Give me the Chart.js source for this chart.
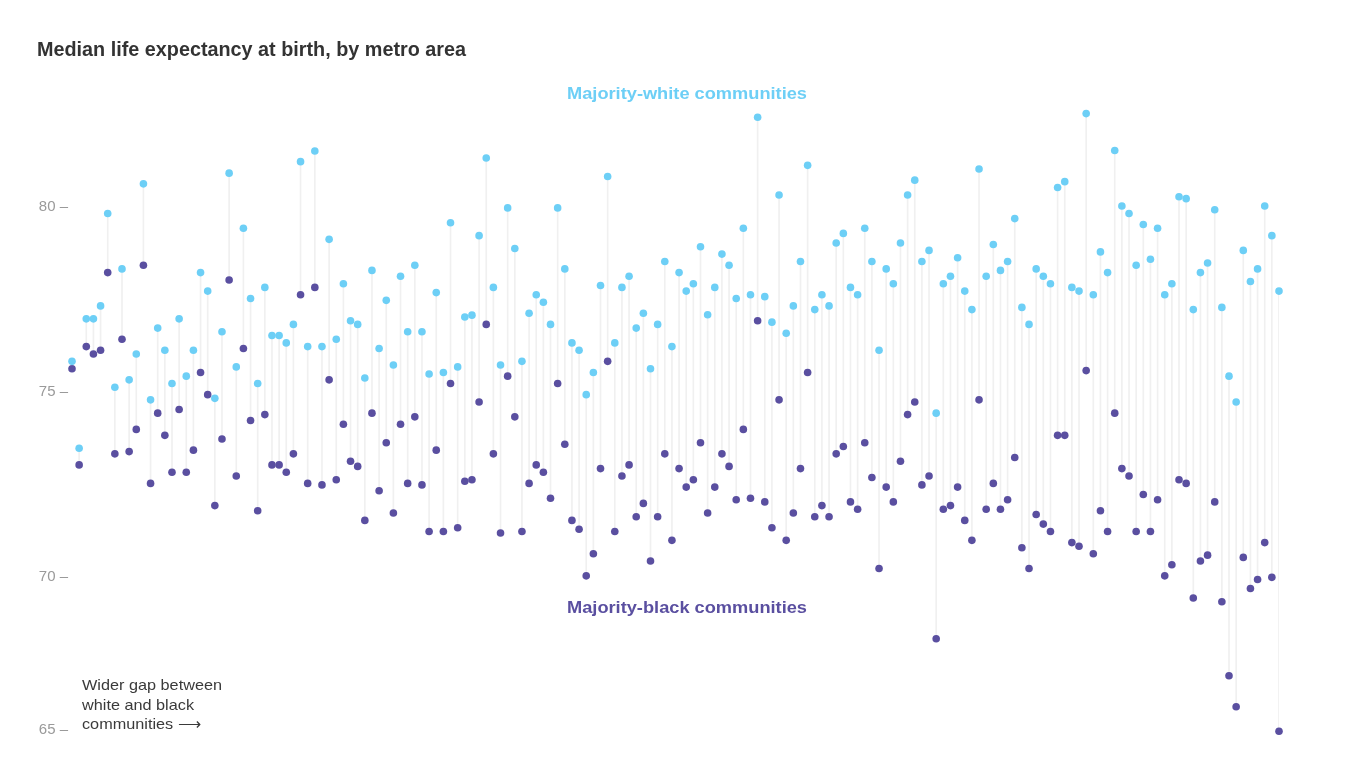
<!DOCTYPE html>
<html>
<head>
<meta charset="utf-8">
<script src="https://cdn.jsdelivr.net/npm/chart.js@4.4.0/dist/chart.umd.min.js"></script>
<style>
  html, body { margin: 0; padding: 0; background: #fff; }
  #wrap { position: relative; width: 1346px; height: 768px; }
</style>
</head>
<body>
<div id="wrap"><canvas id="graph" width="1346" height="768"></canvas></div>
<script>
// median life expectancy, one entry per metro area (sorted by gap, left to right)
const whiteValues = [
  75.83, 73.48, 76.98, 76.98, 77.33, 79.83, 75.13, 78.33, 75.33, 76.03,
  80.63, 74.79, 76.73, 76.13, 75.23, 76.98, 75.43, 76.13, 78.23, 77.73,
  74.83, 76.63, 80.92, 75.68, 79.43, 77.53, 75.23, 77.83, 76.53, 76.53,
  76.33, 76.83, 81.23, 76.23, 81.52, 76.23, 79.13, 76.43, 77.93, 76.93,
  76.83, 75.38, 78.29, 76.18, 77.48, 75.73, 78.13, 76.63, 78.43, 76.63,
  75.49, 77.69, 75.53, 79.58, 75.68, 77.03, 77.08, 79.23, 81.33, 77.83,
  75.73, 79.98, 78.88, 75.83, 77.13, 77.63, 77.43, 76.83, 79.98, 78.33,
  76.33, 76.13, 74.93, 75.53, 77.88, 80.83, 76.33, 77.83, 78.13, 76.73,
  77.13, 75.63, 76.83, 78.53, 76.23, 78.23, 77.73, 77.93, 78.93, 77.09,
  77.83, 78.73, 78.43, 77.53, 79.43, 77.63, 82.43, 77.58, 76.89, 80.33,
  76.59, 77.33, 78.53, 81.13, 77.23, 77.63, 77.33, 79.03, 79.29, 77.83,
  77.63, 79.43, 78.53, 76.13, 78.33, 77.93, 79.03, 80.33, 80.73, 78.53,
  78.83, 74.43, 77.93, 78.13, 78.63, 77.73, 77.23, 81.03, 78.13, 78.99,
  78.29, 78.53, 79.69, 77.29, 76.83, 78.33, 78.13, 77.93, 80.53, 80.69,
  77.83, 77.73, 82.53, 77.63, 78.79, 78.23, 81.53, 80.03, 79.83, 78.43,
  79.53, 78.59, 79.43, 77.63, 77.93, 80.28, 80.23, 77.23, 78.23, 78.49,
  79.93, 77.29, 75.43, 74.73, 78.83, 77.99, 78.33, 80.03, 79.23, 77.73
];

const blackValues = [
  75.63, 73.03, 76.23, 76.03, 76.13, 78.23, 73.33, 76.43, 73.39, 73.99,
  78.43, 72.53, 74.43, 73.83, 72.83, 74.53, 72.83, 73.43, 75.53, 74.93,
  71.93, 73.73, 78.03, 72.73, 76.18, 74.23, 71.79, 74.39, 73.03, 73.03,
  72.83, 73.33, 77.63, 72.53, 77.83, 72.49, 75.33, 72.63, 74.13, 73.13,
  72.99, 71.53, 74.43, 72.33, 73.63, 71.73, 74.13, 72.53, 74.33, 72.49,
  71.23, 73.43, 71.23, 75.23, 71.33, 72.59, 72.63, 74.73, 76.83, 73.33,
  71.19, 75.43, 74.33, 71.23, 72.53, 73.03, 72.83, 72.13, 75.23, 73.59,
  71.53, 71.29, 70.03, 70.63, 72.93, 75.83, 71.23, 72.73, 73.03, 71.63,
  71.99, 70.43, 71.63, 73.33, 70.99, 72.93, 72.43, 72.63, 73.63, 71.73,
  72.43, 73.33, 72.99, 72.09, 73.99, 72.13, 76.93, 72.03, 71.33, 74.79,
  70.99, 71.73, 72.93, 75.53, 71.63, 71.93, 71.63, 73.33, 73.53, 72.03,
  71.83, 73.63, 72.69, 70.23, 72.43, 72.03, 73.13, 74.39, 74.73, 72.49,
  72.73, 68.33, 71.83, 71.93, 72.43, 71.53, 70.99, 74.79, 71.83, 72.53,
  71.83, 72.09, 73.23, 70.79, 70.23, 71.69, 71.43, 71.23, 73.83, 73.83,
  70.93, 70.83, 75.58, 70.63, 71.79, 71.23, 74.43, 72.93, 72.73, 71.23,
  72.23, 71.23, 72.09, 70.03, 70.33, 72.63, 72.53, 69.43, 70.43, 70.59,
  72.03, 69.33, 67.33, 66.49, 70.53, 69.69, 69.93, 70.93, 69.99, 65.83
];

const metros = whiteValues.map((v, i) => 'Metro ' + (i + 1));

// the bottom tick sits at the foot of the plot, as in the original graphic
const yTickValues = [65.86, 70, 75, 80];
const yTickLabels = ['65', '70', '75', '80'];

const WHITE = '#6dcff6';
const BLACK = '#5a4fa0';

function drawFitted(ctx, text, x, y, width) {
  const w = ctx.measureText(text).width;
  ctx.save();
  ctx.translate(x, y);
  ctx.scale(width / w, 1);
  ctx.fillText(text, 0, 0);
  ctx.restore();
}

const textPlugin = {
  id: 'texts',
  afterDraw(chart) {
    const ctx = chart.ctx;
    ctx.save();
    ctx.textBaseline = 'alphabetic';
    ctx.textAlign = 'left';

    ctx.fillStyle = '#333';
    ctx.font = 'bold 21px "Liberation Sans", Arial, sans-serif';
    drawFitted(ctx, 'Median life expectancy at birth, by metro area', 37, 56, 429);

    ctx.font = 'bold 17px "Liberation Sans", Arial, sans-serif';
    ctx.fillStyle = WHITE;
    drawFitted(ctx, 'Majority-white communities', 567, 99, 240);
    ctx.fillStyle = BLACK;
    drawFitted(ctx, 'Majority-black communities', 567, 613, 240);

    // note in the lower left, stretched a touch to the original's width
    ctx.fillStyle = '#3a3a3a';
    ctx.font = '15px "Liberation Sans", Arial, sans-serif';
    const k = 140 / ctx.measureText('Wider gap between').width;
    const lines = ['Wider gap between', 'white and black', 'communities \u27F6'];
    lines.forEach((t, i) => {
      ctx.save();
      ctx.translate(82, 690 + i * 19.5);
      ctx.scale(k, 1);
      ctx.fillText(t, 0, 0);
      ctx.restore();
    });
    ctx.restore();
  }
};

const ctx = document.getElementById('graph');
new Chart(ctx, {
  type: 'line',
  data: {
    labels: metros,
    datasets: [
      {
        type: 'bar',
        label: 'gap',
        data: whiteValues.map((w, i) => [blackValues[i], w]),
        backgroundColor: '#f0f0f0',
        barThickness: 1,
        order: 3
      },
      {
        label: 'Majority-white communities',
        data: whiteValues,
        showLine: false,
        pointRadius: 3.8,
        pointBorderWidth: 0,
        pointBackgroundColor: WHITE,
        clip: false,
        order: 1
      },
      {
        label: 'Majority-black communities',
        data: blackValues,
        showLine: false,
        pointRadius: 3.8,
        pointBorderWidth: 0,
        pointBackgroundColor: BLACK,
        clip: false,
        order: 2
      }
    ]
  },
  options: {
    responsive: false,
    animation: false,
    layout: { padding: { left: 0, right: 67, top: 111, bottom: 32 } },
    plugins: {
      legend: { display: false },
      tooltip: { enabled: false }
    },
    scales: {
      x: {
        display: false,
        offset: false,
        grid: { display: false }
      },
      y: {
        min: 65.7,
        max: 82.6,
        border: { display: false },
        grid: { display: false, drawTicks: false },
        afterBuildTicks: (s) => { s.ticks = yTickValues.map(v => ({ value: v })); },
        afterFit: (s) => { s.width = 72; },
        ticks: {
          autoSkip: false,
          padding: 4,
          color: '#9a9a9a',
          font: { size: 15, family: '"Liberation Sans", Arial, sans-serif' },
          callback: (v, i) => yTickLabels[i] + ' \u2013'
        }
      }
    }
  },
  plugins: [textPlugin]
});
</script>
</body>
</html>
